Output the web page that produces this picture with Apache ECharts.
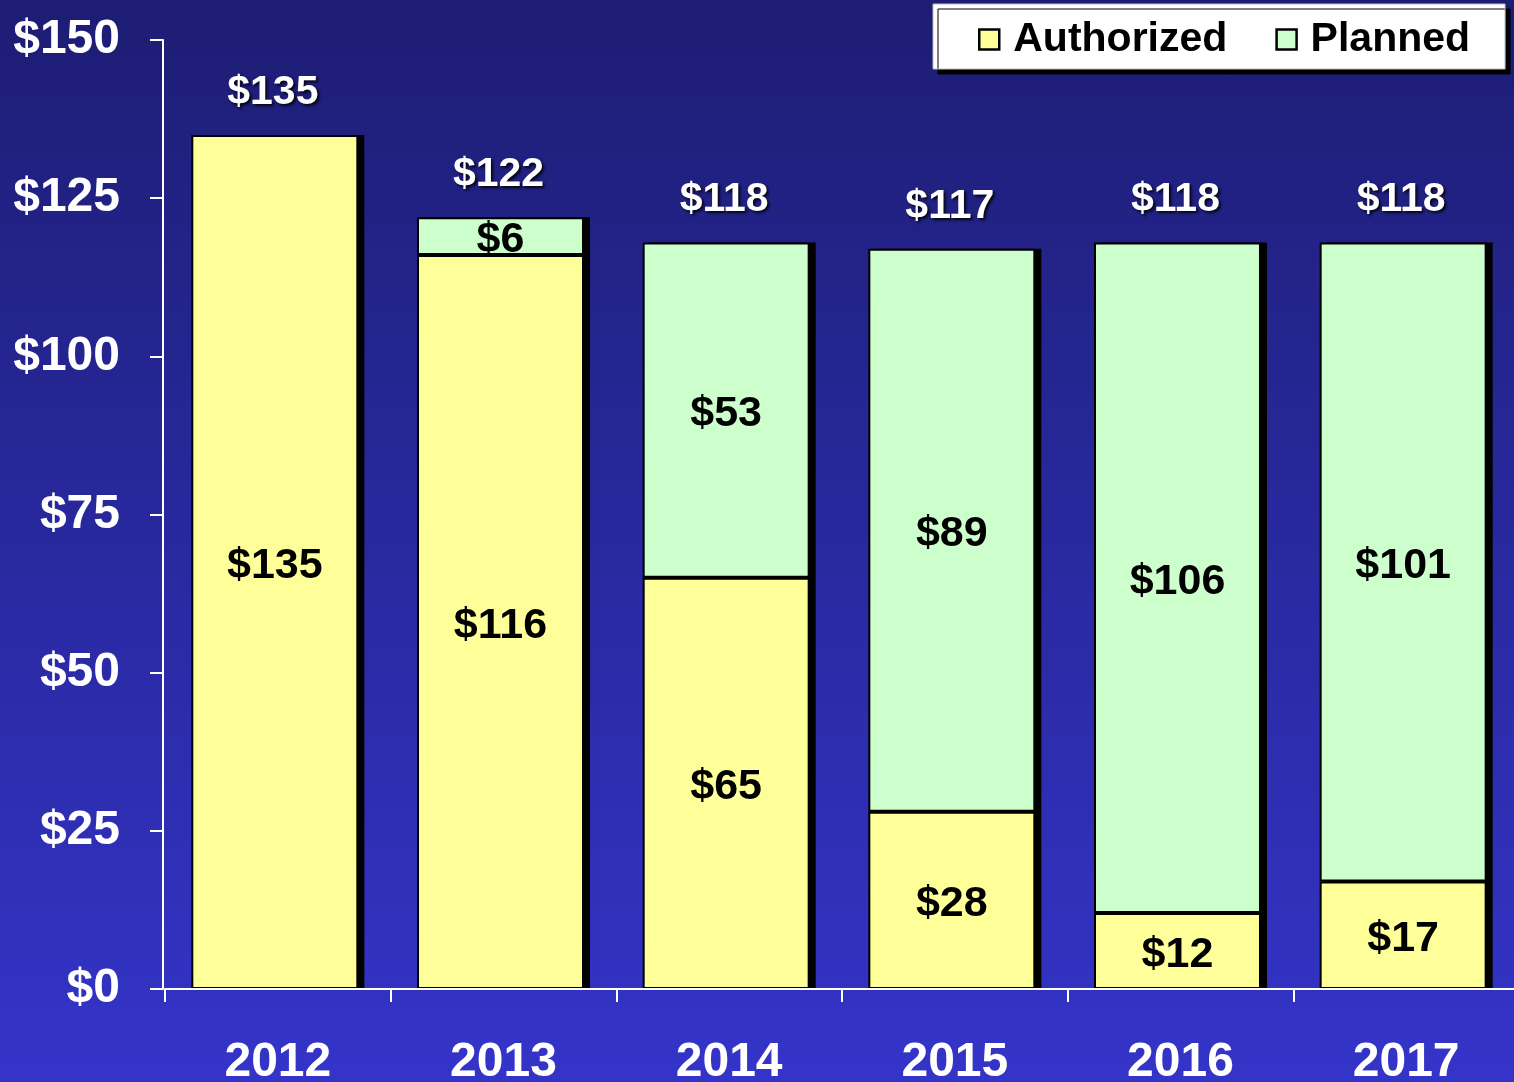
<!DOCTYPE html>
<html>
<head>
<meta charset="utf-8">
<script src="https://cdn.jsdelivr.net/npm/echarts@6/dist/echarts.min.js"></script>
<style>
  html, body { margin: 0; padding: 0; }
  #main { width: 1514px; height: 1082px; }
</style>
</head>
<body>
<div id="main"></div>
<script>
  var years = ['2012', '2013', '2014', '2015', '2016', '2017'];
  var authorized = [135, 116, 65, 28, 12, 17];
  var planned = [null, 6, 53, 89, 106, 101];
  var totals = [135, 122, 118, 117, 118, 118];

  var font = "'Liberation Sans', Arial, sans-serif";
  var chart = echarts.init(document.getElementById('main'));

  var insideLabel = {
    show: true,
    position: 'inside',
    offset: [0, 4],
    color: '#000',
    fontFamily: font,
    fontWeight: 'bold',
    fontSize: 43,
    formatter: function (p) { return p.value == null ? '' : '$' + p.value; }
  };

  chart.setOption({
    backgroundColor: {
      type: 'linear', x: 0, y: 0, x2: 0, y2: 1,
      colorStops: [
        { offset: 0, color: '#1d1d74' },
        { offset: 1, color: '#3434c9' }
      ]
    },
    animation: false,
    legend: {
      data: ['Authorized', 'Planned'],
      left: 933,
      top: 4,
      padding: [15, 35, 9, 45],
      itemGap: 48,
      itemWidth: 20,
      itemHeight: 20,
      icon: 'rect',
      backgroundColor: '#fff',
      borderColor: '#bbb',
      borderWidth: 1,
      shadowColor: '#000',
      shadowBlur: 0,
      shadowOffsetX: 5,
      shadowOffsetY: 5,
      itemStyle: { borderColor: '#000', borderWidth: 2.5 },
      textStyle: {
        color: '#000',
        fontFamily: font,
        fontWeight: 'bold',
        fontSize: 41,
        padding: [0, 0, 0, 9]
      }
    },
    grid: { left: 165, top: 40, width: 1354, height: 949, outerBoundsMode: 'none', containLabel: false },
    xAxis: {
      type: 'category',
      data: years,
      z: 10,
      axisLine: { lineStyle: { color: '#fff', width: 2 } },
      axisTick: { show: true, length: 13, lineStyle: { color: '#fff', width: 2 } },
      axisLabel: {
        color: '#fff',
        fontFamily: font,
        fontWeight: 'bold',
        fontSize: 48,
        margin: 50
      }
    },
    yAxis: {
      type: 'value',
      min: 0,
      max: 150,
      interval: 25,
      offset: 2,
      splitLine: { show: false },
      axisLine: { show: true, lineStyle: { color: '#fff', width: 2 } },
      axisTick: { show: true, length: 13, lineStyle: { color: '#fff', width: 2 } },
      axisLabel: {
        color: '#fff',
        fontFamily: font,
        fontWeight: 'bold',
        fontSize: 48,
        margin: 43,
        formatter: '${value}'
      }
    },
    series: [
      {
        name: 'Authorized',
        type: 'bar',
        stack: 'total',
        z: 3,
        barWidth: 167,
        barGap: '-96.4%',
        itemStyle: { color: '#ffff99', borderColor: '#000', borderWidth: 2 },
        label: insideLabel,
        data: authorized
      },
      {
        name: 'Planned',
        type: 'bar',
        stack: 'total',
        z: 3,
        barWidth: 167,
        itemStyle: { color: '#ccffcc', borderColor: '#000', borderWidth: 2 },
        label: insideLabel,
        data: planned
      },
      {
        name: 'Shadow',
        type: 'bar',
        z: 2,
        silent: true,
        barWidth: 167,
        barGap: '-96.4%',
        itemStyle: { color: '#000' },
        data: totals
      },
      {
        name: 'Total',
        type: 'scatter',
        symbolSize: 0,
        z: 5,
        itemStyle: { opacity: 1 },
        label: {
          show: true,
          position: 'top',
          distance: 22,
          offset: [-5, 0],
          color: '#fff',
          fontFamily: font,
          fontWeight: 'bold',
          fontSize: 41,
          textShadowColor: 'rgba(0,0,0,0.85)',
          textShadowBlur: 3,
          textShadowOffsetX: 2,
          textShadowOffsetY: 2,
          formatter: function (p) { return '$' + p.value; }
        },
        data: totals
      }
    ]
  });
</script>
</body>
</html>
